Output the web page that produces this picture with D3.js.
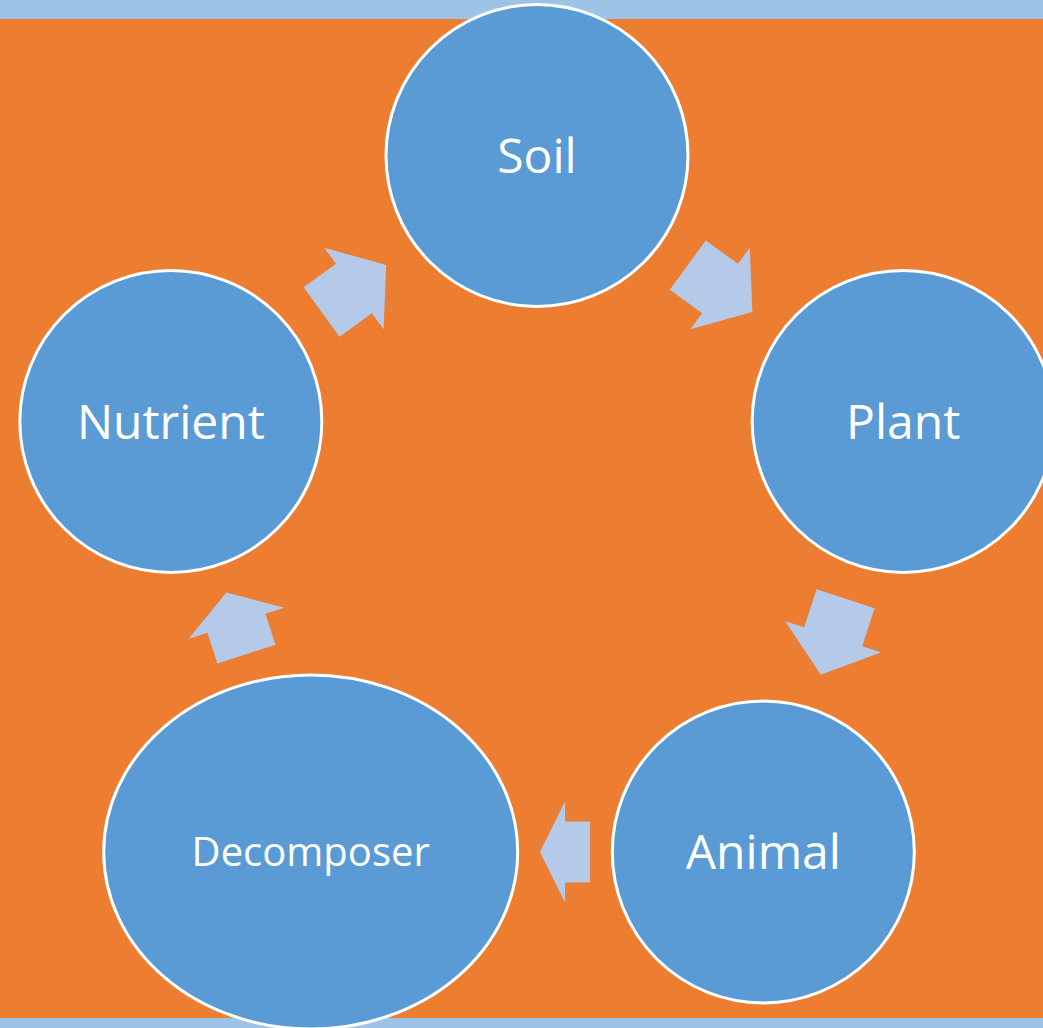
<!DOCTYPE html>
<html>
<head>
<meta charset="utf-8">
<script src="https://cdn.jsdelivr.net/npm/d3@7"></script>
<style>
  html, body { margin: 0; padding: 0; overflow: hidden; background: #ED7D31; }
</style>
</head>
<body>
<div id="myChart"></div>
<script>
// cycle stages, clockwise from the top
const stages = ["Soil", "Plant", "Animal", "Decomposer", "Nutrient"];
// the decomposer shape is the wide one
const wideStages = ["Decomposer"];

const width = 1043, height = 1028;
const center = {x: 537, y: 540.5}, ringR = 385;
const nodeR = 151, wideRx = 207, wideRy = 177;

const svg = d3.select("#myChart")
  .append("svg")
    .attr("width", width)
    .attr("height", height)
    .style("display", "block");

// background and bands
svg.append("rect").attr("width", width).attr("height", height).attr("fill", "#ED7D31");
svg.append("rect").attr("width", width).attr("height", 19).attr("fill", "#9DC3E6");
svg.append("rect").attr("y", 1018).attr("width", width).attr("height", 10).attr("fill", "#9DC3E6");

// angle for each stage around the ring
const angle = d3.scaleLinear()
  .domain([0, stages.length])
  .range([-Math.PI / 2, 1.5 * Math.PI]);

const nodes = stages.map((name, i) => {
  const a = angle(i);
  const wide = wideStages.includes(name);
  return {
    name,
    x: center.x + ringR * Math.cos(a),
    y: center.y + ringR * Math.sin(a),
    rx: wide ? wideRx : nodeR,
    ry: wide ? wideRy : nodeR,
    fs: wide ? 40 : 48
  };
});

// distance from a node centre to its edge along unit vector (ux, uy)
function edge(n, ux, uy) {
  return 1 / Math.sqrt((ux / n.rx) ** 2 + (uy / n.ry) ** 2);
}

// arrows sit in the gap between neighbours
const arrows = nodes.map((n, i) => {
  const m = nodes[(i + 1) % nodes.length];
  const dx = m.x - n.x, dy = m.y - n.y;
  const dist = Math.hypot(dx, dy);
  const ux = dx / dist, uy = dy / dist;
  const d0 = edge(n, ux, uy), d1 = edge(m, -ux, -uy);
  const gap = dist - d0 - d1;
  const mid = d0 + gap / 2;
  return {
    x: n.x + ux * mid,
    y: n.y + uy * mid,
    rot: Math.atan2(uy, ux) * 180 / Math.PI,
    len: gap * 0.53
  };
});

const shaft = 30.5, head = 50.5;
svg.selectAll("path.arrow")
  .data(arrows)
  .join("path")
    .attr("class", "arrow")
    .attr("transform", d => `translate(${d.x},${d.y}) rotate(${d.rot})`)
    .attr("d", d => {
      const h = d.len / 2;
      return `M${-h},${-shaft}L0,${-shaft}L0,${-head}L${h},0L0,${head}L0,${shaft}L${-h},${shaft}Z`;
    })
    .attr("fill", "#B4CAE8");

svg.selectAll("ellipse.node")
  .data(nodes)
  .join("ellipse")
    .attr("class", "node")
    .attr("cx", d => d.x)
    .attr("cy", d => d.y)
    .attr("rx", d => d.rx)
    .attr("ry", d => d.ry)
    .attr("fill", "#5B9BD5")
    .attr("stroke", "#fff")
    .attr("stroke-width", 3);

svg.selectAll("text.label")
  .data(nodes)
  .join("text")
    .attr("class", "label")
    .attr("x", d => d.x)
    .attr("y", d => d.y + d.fs * 0.357)
    .attr("text-anchor", "middle")
    .style("font-family", "'Open Sans', sans-serif")
    .style("font-size", d => d.fs + "px")
    .attr("fill", "#fff")
    .text(d => d.name);
</script>
</body>
</html>
